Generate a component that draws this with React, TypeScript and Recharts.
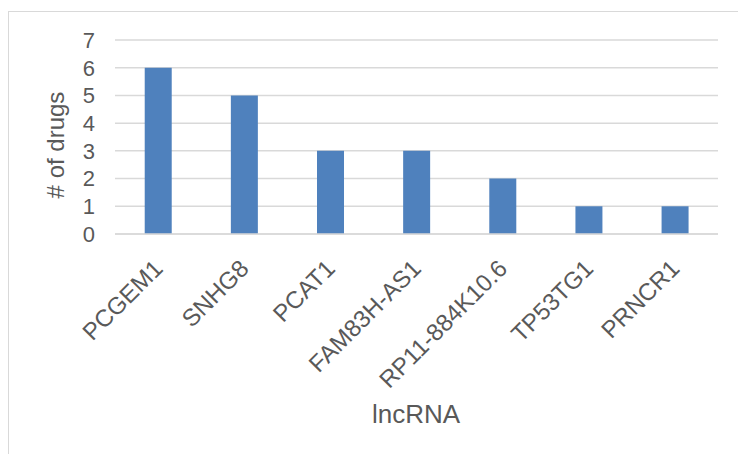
import React from 'react';
import { BarChart, Bar, XAxis, YAxis, CartesianGrid } from 'recharts';

const categories = ['PCGEM1', 'SNHG8', 'PCAT1', 'FAM83H-AS1', 'RP11-884K10.6', 'TP53TG1', 'PRNCR1'];
const drugCounts = [6, 5, 3, 3, 2, 1, 1];
const yTicks = [0, 1, 2, 3, 4, 5, 6, 7];

const data = categories.map((name, i) => ({ name, value: drugCounts[i] }));

const TEXT = '#595959';
const FONT = '"Liberation Sans", Arial, sans-serif';

const XTick = (props: any) => {
  const { x, y, payload } = props;
  return (
    <g transform={`translate(${x + 6},${y + 28})`}>
      <text textAnchor="end" fill={TEXT} fontSize={24} fontFamily={FONT} transform="rotate(-45)">
        {payload.value}
      </text>
    </g>
  );
};

export default function App() {
  return (
    <div style={{ position: 'absolute', left: 0, top: 0, width: 738, height: 454, background: '#fff' }}>
      <div
        style={{
          position: 'absolute',
          left: 8,
          top: 11,
          width: 740,
          height: 460,
          border: '1.5px solid #d9d9d9',
          boxSizing: 'border-box',
        }}
      />
      <div style={{ position: 'absolute', left: 0, top: 0 }}>
        <BarChart
          width={738}
          height={454}
          data={data}
          margin={{ top: 40, right: 20, left: 0, bottom: 0 }}
          barCategoryGap="34.5%"
        >
          <CartesianGrid vertical={false} stroke="#d9d9d9" strokeWidth={1.5} />
          <XAxis
            dataKey="name"
            height={220}
            interval={0}
            tickLine={false}
            axisLine={{ stroke: '#d9d9d9', strokeWidth: 1.5 }}
            tick={<XTick />}
            label={(p: any) => (
              <text x={416} y={423} textAnchor="middle" fill={TEXT} fontSize={26} fontFamily={FONT}>
                lncRNA
              </text>
            )}
          />
          <YAxis
            width={115}
            domain={[0, 7]}
            ticks={yTicks}
            interval={0}
            tickLine={false}
            axisLine={false}
            tickSize={0}
            tickMargin={20}
            tick={{ fill: TEXT, fontSize: 22, fontFamily: FONT }}
            label={(p: any) => (
              <text
                x={64}
                y={145}
                textAnchor="middle"
                fill={TEXT}
                fontSize={24}
                fontFamily={FONT}
                transform="rotate(-90, 64, 145)"
              >
                # of drugs
              </text>
            )}
          />
          <Bar dataKey="value" fill="#4f81bd" isAnimationActive={false} />
        </BarChart>
      </div>
    </div>
  );
}
